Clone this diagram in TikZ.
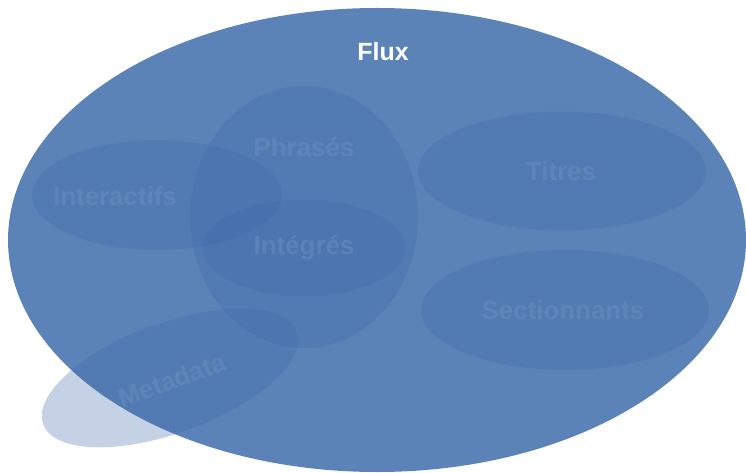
\documentclass[tikz,border=0pt]{standalone}
\usepackage{fontspec}
\setmainfont{Liberation Sans}
\usetikzlibrary{shapes.geometric}
\definecolor{mainblue}{HTML}{5B83B8}
\definecolor{subblue}{HTML}{3E6BAA}
\definecolor{faint}{HTML}{6A8CBC}
\begin{document}
\begin{tikzpicture}[x=1bp,y=-1bp,
  setbox/.style={ellipse, draw=none, inner sep=0pt},
  subset/.style={setbox, fill=subblue, fill opacity=0.3},
  faintlabel/.style={font=\fontsize{26}{30}\selectfont\bfseries, text=faint, text opacity=0.55, inner sep=0pt},
]
\useasboundingbox (0,0) rectangle (746,473);
\node[setbox, fill=mainblue, minimum width=738bp, minimum height=464bp] (flux) at (377,240) {};
\node[font=\fontsize{25}{29}\selectfont\bfseries, text=white, inner sep=0pt] (fluxlbl) at (383,52) {Flux};

\node[subset, minimum width=228bp, minimum height=262bp] (phrases) at (304,217) {};
\node[subset, minimum width=250bp, minimum height=110bp] (interactifs) at (157,195) {};
\node[subset, minimum width=203bp, minimum height=97bp] (integres) at (304,248) {};
\node[subset, minimum width=288bp, minimum height=119bp] (titres) at (562,171) {};
\node[subset, minimum width=288bp, minimum height=120bp] (sections) at (565,310) {};
\node[subset, minimum width=270bp, minimum height=110bp, rotate=20] (metadata) at (170,378) {};

\node[faintlabel] (lphrases) at (304,147) {Phrasés};
\node[faintlabel] (linteractifs) at (115,196) {Interactifs};
\node[faintlabel] (lintegres) at (304,248) {Intégrés};
\node[faintlabel] (ltitres) at (561,171) {Titres};
\node[faintlabel] (lsections) at (563,310) {Sectionnants};
\node[faintlabel, rotate=20] (lmetadata) at (172,380) {Metadata};
\end{tikzpicture}
\end{document}
